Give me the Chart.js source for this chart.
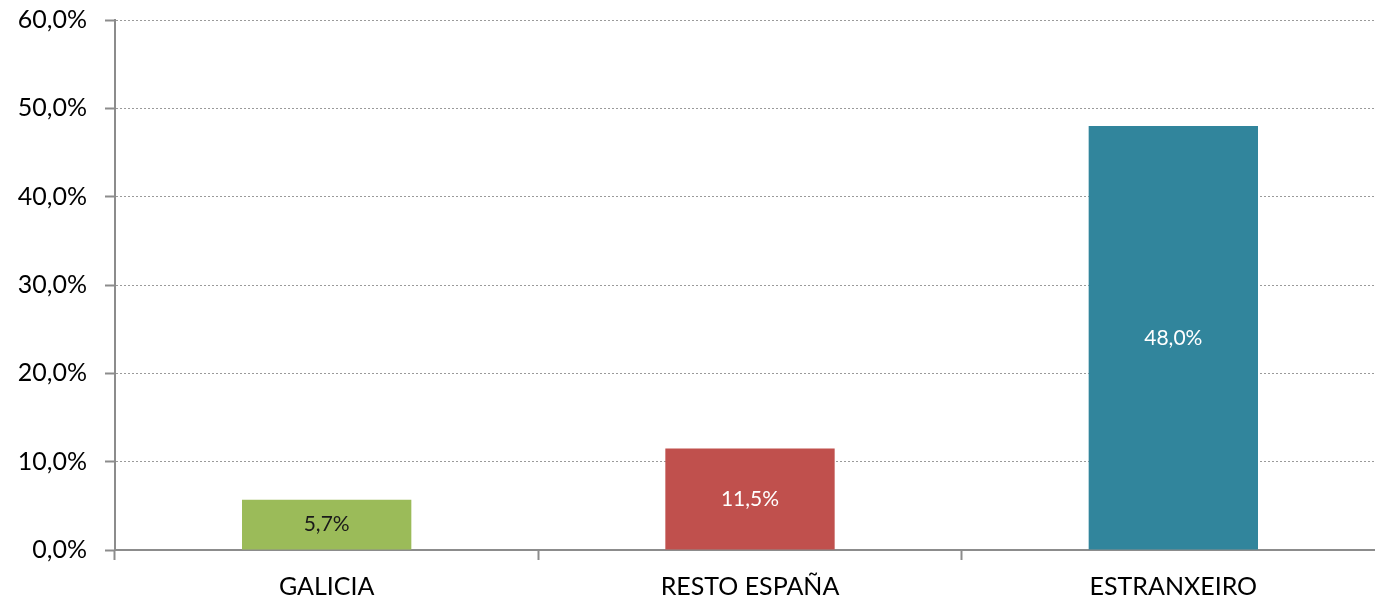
<!DOCTYPE html>
<html lang="gl">
<head>
    <meta charset="utf-8">
    <title>Procedencia</title>
    <script src="https://cdn.jsdelivr.net/npm/chart.js@4.4.0/dist/chart.umd.js"></script>
    <style>
        html, body { margin: 0; padding: 0; background: #fff; overflow: hidden; }
        #wrap { width: 1390px; height: 600px; }
    </style>
</head>
<body>
    <div id="wrap"><canvas id="chart" width="1390" height="600"></canvas></div>

    <script>
        // Data
        const categories = ['GALICIA', 'RESTO ESPAÑA', 'ESTRANXEIRO'];
        const values = [5.7, 11.5, 48.0];
        const barColors = ['#9BBB59', '#C0504D', '#31859C'];
        const labelColors = ['#1a1a1a', '#ffffff', '#ffffff'];
        const yTicks = [0, 10, 20, 30, 40, 50, 60];

        const FONT = "Lato, 'Open Sans', sans-serif";
        const fmt = v => v.toFixed(1).replace('.', ',') + '%';

        // draw value labels in the middle of each bar
        const barLabels = {
            id: 'barLabels',
            afterDatasetsDraw(chart) {
                const ctx = chart.ctx;
                const meta = chart.getDatasetMeta(0);
                ctx.save();
                ctx.font = '21px ' + FONT;
                ctx.textAlign = 'center';
                ctx.textBaseline = 'middle';
                meta.data.forEach((bar, i) => {
                    ctx.fillStyle = labelColors[i];
                    ctx.fillText(fmt(values[i]), bar.x, (bar.y + bar.base) / 2);
                });
                ctx.restore();
            }
        };

        const ctx = document.getElementById('chart').getContext('2d');
        new Chart(ctx, {
            type: 'bar',
            data: {
                labels: categories,
                datasets: [{
                    data: values,
                    backgroundColor: barColors,
                    borderWidth: 0,
                    categoryPercentage: 0.4,
                    barPercentage: 1.0
                }]
            },
            options: {
                responsive: false,
                animation: false,
                layout: { padding: { top: 20, right: 5, left: 0, bottom: 0 } },
                plugins: {
                    legend: { display: false },
                    tooltip: { enabled: false }
                },
                scales: {
                    x: {
                        grid: {
                            offset: true,
                            drawOnChartArea: false,
                            drawTicks: true,
                            tickLength: 10,
                            tickColor: '#8c8c8c',
                            tickWidth: 2
                        },
                        border: { color: '#8c8c8c', width: 2 },
                        ticks: {
                            color: '#000',
                            padding: 12,
                            font: { family: FONT, size: 25 }
                        },
                        afterFit(scale) { scale.height = 50; }
                    },
                    y: {
                        min: 0,
                        max: 60,
                        afterBuildTicks(scale) {
                            scale.ticks = yTicks.map(v => ({ value: v }));
                        },
                        grid: {
                            color: '#9a9a9a',
                            lineWidth: 1,
                            tickLength: 10,
                            tickColor: '#8c8c8c',
                            tickWidth: 2,
                            tickBorderDash: []
                        },
                        // in v4 border.dash styles the grid lines
                        border: { color: '#8c8c8c', width: 2, dash: [2, 2] },
                        ticks: {
                            color: '#000',
                            padding: 18,
                            font: { family: FONT, size: 25 },
                            callback: v => fmt(v)
                        },
                        afterFit(scale) {
                            scale.width = 115;
                            scale.paddingTop = 0;
                        }
                    }
                }
            },
            plugins: [barLabels]
        });
    </script>
</body>
</html>
